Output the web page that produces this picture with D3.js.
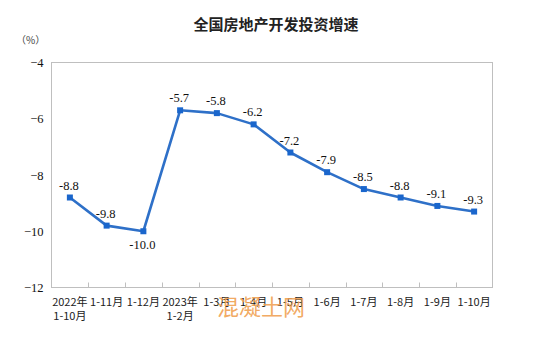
<!DOCTYPE html>
<html>
<head>
<meta charset="utf-8">
<script src="https://cdn.jsdelivr.net/npm/d3@7"></script>
<style>
  html, body { margin: 0; padding: 0; background: #fff; }
  svg { display: block; }
</style>
</head>
<body>
<svg id="chart" width="556" height="348"></svg>
<script>
// Period labels (two lines where needed)
const periods = [
  ["2022年", "1-10月"], ["1-11月"], ["1-12月"], ["2023年", "1-2月"],
  ["1-3月"], ["1-4月"], ["1-5月"], ["1-6月"], ["1-7月"], ["1-8月"], ["1-9月"], ["1-10月"]
];
// Cumulative year-on-year growth of real-estate development investment (%)
const growth = [-8.8, -9.8, -10.0, -5.7, -5.8, -6.2, -7.2, -7.9, -8.5, -8.8, -9.1, -9.3];
const yTicks = [-4, -6, -8, -10, -12];
// Points whose value label sits under the marker
const labelBelow = [false, false, true, false, false, false, false, false, false, false, false, false];

(function draw() {
  const svg = d3.select("#chart");
  const plotL = 51.5, plotR = 492.5, plotT = 62.5, plotB = 287.5;

  const x = d3.scaleBand().domain(d3.range(periods.length)).range([plotL, plotR]);
  const y = d3.scaleLinear().domain([-12, -4]).range([plotB, plotT]);

  const serif = "'Liberation Serif', 'Times New Roman', serif";
  const cjk = "'Noto Sans CJK SC', sans-serif";

  // Title and unit
  svg.append("text").attr("x", 276).attr("y", 30).attr("text-anchor", "middle")
    .style("font-family", cjk).style("font-size", "15px").style("font-weight", "bold")
    .attr("fill", "#222").text("全国房地产开发投资增速");
  svg.append("text").attr("x", 16).attr("y", 44)
    .style("font-family", cjk).style("font-size", "10px").attr("fill", "#444").text("（%）");

  // Plot frame
  svg.append("rect").attr("x", plotL).attr("y", plotT)
    .attr("width", plotR - plotL).attr("height", plotB - plotT)
    .attr("fill", "none").attr("stroke", "#bfbfbf").attr("stroke-width", 1);

  // Y axis labels (no tick marks)
  const yAxis = d3.axisLeft(y).tickValues(yTicks).tickSize(0).tickPadding(8).tickFormat(d3.format("d"));
  const gy = svg.append("g").attr("transform", `translate(${plotL},0)`).call(yAxis);
  gy.select(".domain").remove();
  gy.selectAll("text").style("font-family", serif).style("font-size", "12.5px").attr("fill", "#111");

  // X axis: inward ticks at band boundaries
  const boundaries = d3.range(1, periods.length).map(i => x(i));
  svg.append("g").selectAll("line").data(boundaries).join("line")
    .attr("x1", d => Math.round(d) + 0.5).attr("x2", d => Math.round(d) + 0.5)
    .attr("y1", plotB - 5).attr("y2", plotB)
    .attr("stroke", "#bfbfbf").attr("stroke-width", 1);

  const xl = svg.append("g").selectAll("text").data(periods).join("text")
    .attr("x", (d, i) => x(i) + x.bandwidth() / 2)
    .attr("y", 306)
    .attr("text-anchor", "middle")
    .style("font-family", cjk).style("font-size", "11px").attr("fill", "#222");
  xl.each(function(d) {
    const t = d3.select(this);
    d.forEach((lineText, k) => {
      t.append("tspan").attr("x", t.attr("x")).attr("dy", k === 0 ? 0 : 13.5).text(lineText);
    });
  });

  // Series line
  const cx = i => x(i) + x.bandwidth() / 2;
  const line = d3.line().x((d, i) => cx(i)).y(d => y(d));
  svg.append("path").datum(growth).attr("d", line)
    .attr("fill", "none").attr("stroke", "#2e70c8").attr("stroke-width", 2.6)
    .attr("stroke-linejoin", "round");

  // Square markers
  svg.append("g").selectAll("rect").data(growth).join("rect")
    .attr("x", (d, i) => cx(i) - 3).attr("y", d => y(d) - 3)
    .attr("width", 6).attr("height", 6).attr("fill", "#1a66cc");

  // Value labels
  svg.append("g").selectAll("text").data(growth).join("text")
    .attr("x", (d, i) => cx(i) - 1)
    .attr("y", (d, i) => labelBelow[i] ? y(d) + 18 : y(d) - 8)
    .attr("text-anchor", "middle")
    .style("font-family", serif).style("font-size", "12.5px").attr("fill", "#111")
    .text(d => d.toFixed(1));

  // Site watermark
  svg.append("text").attr("x", 261).attr("y", 315).attr("text-anchor", "middle")
    .style("font-family", cjk).style("font-size", "22px")
    .attr("fill", "#f0a050").attr("fill-opacity", 0.9).text("混凝土网");
})();
</script>
</body>
</html>
